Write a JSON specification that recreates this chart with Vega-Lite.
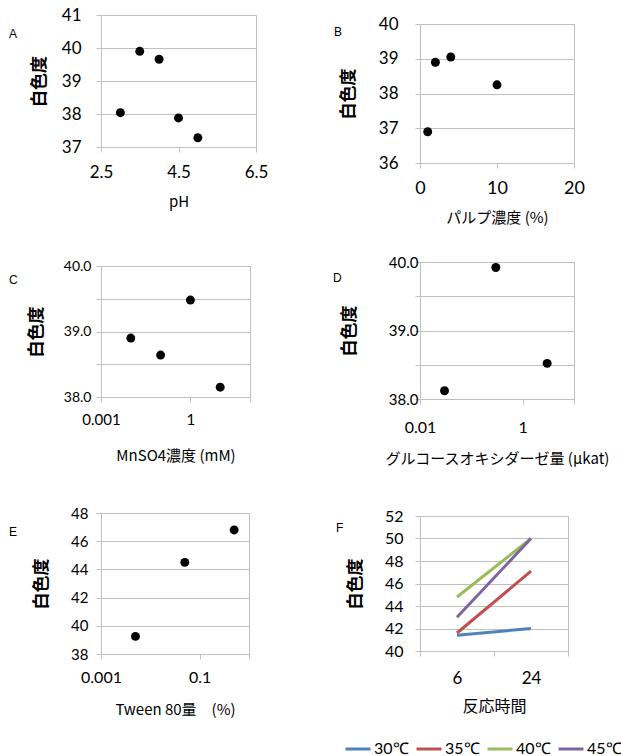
{
  "$schema": "https://vega.github.io/schema/vega-lite/v6.json",
  "padding": {"left": 8, "top": 5, "right": 0, "bottom": 0},
  "background": "white",
  "datasets": {
    "A": [
      {"pH": 3.0, "whiteness": 38.04},
      {"pH": 3.5, "whiteness": 39.9},
      {"pH": 4.0, "whiteness": 39.66},
      {"pH": 4.5, "whiteness": 37.88},
      {"pH": 5.0, "whiteness": 37.28}
    ],
    "B": [
      {"pulp": 1, "whiteness": 36.9},
      {"pulp": 2, "whiteness": 38.9},
      {"pulp": 4, "whiteness": 39.05},
      {"pulp": 10, "whiteness": 38.25}
    ],
    "C": [
      {"mnso4": 0.01, "whiteness": 38.9},
      {"mnso4": 0.1, "whiteness": 38.64},
      {"mnso4": 1, "whiteness": 39.48},
      {"mnso4": 10, "whiteness": 38.15}
    ],
    "D": [
      {"gox": 0.03, "whiteness": 38.12},
      {"gox": 0.3, "whiteness": 39.92},
      {"gox": 3, "whiteness": 38.52}
    ],
    "E": [
      {"tween": 0.005, "whiteness": 39.25},
      {"tween": 0.05, "whiteness": 44.5},
      {"tween": 0.5, "whiteness": 46.8}
    ],
    "F": [
      {"time": 6, "temp": "30℃", "whiteness": 41.4},
      {"time": 24, "temp": "30℃", "whiteness": 42.0},
      {"time": 6, "temp": "35℃", "whiteness": 41.6},
      {"time": 24, "temp": "35℃", "whiteness": 47.1},
      {"time": 6, "temp": "40℃", "whiteness": 44.8},
      {"time": 24, "temp": "40℃", "whiteness": 50.0},
      {"time": 6, "temp": "45℃", "whiteness": 43.0},
      {"time": 24, "temp": "45℃", "whiteness": 50.0}
    ]
  },
  "config": {
    "view": {"stroke": "#bfbfbf", "strokeWidth": 1},
    "axis": {
      "domainColor": "#bfbfbf",
      "tickColor": "#bfbfbf",
      "gridColor": "#bfbfbf",
      "gridOpacity": 1,
      "tickSize": 5,
      "labelColor": "#000000",
      "titleColor": "#000000",
      "labelFont": "Lato",
      "titleFont": "Noto Sans CJK JP",
      "titleFontWeight": "normal",
      "labelFontSize": 16,
      "titleFontSize": 15,
      "labelFlush": false,
      "labelOverlap": false
    },
    "axisX": {"grid": false, "labelPadding": 10, "titlePadding": 10},
    "axisY": {"grid": true, "titleFontSize": 17, "titleFontWeight": "bold", "labelPadding": 12, "titlePadding": 18},
    "title": {"font": "Liberation Sans", "fontSize": 12, "fontWeight": "normal", "color": "#000000", "anchor": "start", "frame": "group", "orient": "top", "baseline": "middle", "align": "left"},
    "legend": {"labelFont": "Lato", "labelFontSize": 16, "labelColor": "#000000"}
  },
  "hconcat": [
    {
      "vconcat": [
        {
          "width": 155, "height": 132,
          "data": {"name": "A"},
          "title": {"text": "A", "dx": -92, "offset": -35},
          "mark": {"type": "circle", "size": 80, "color": "#000000", "opacity": 1},
          "encoding": {
            "x": {"field": "pH", "type": "quantitative", "scale": {"domain": [2.5, 6.5], "nice": false, "zero": false},
                  "axis": {"values": [2.5, 4.5, 6.5], "format": ".1f", "title": "pH", "labelFontSize": 17, "labelPadding": 12, "titlePadding": 14}},
            "y": {"field": "whiteness", "type": "quantitative", "scale": {"domain": [37, 41], "nice": false, "zero": false},
                  "axis": {"values": [37, 38, 39, 40, 41], "format": "d", "title": "白色度", "labelFontSize": 17, "labelPadding": 15, "titlePadding": 13}}
          }
        },
        {"width": 1, "height": 119, "data": {"values": []}, "mark": "point", "view": {"stroke": null}},
        {
          "width": 149, "height": 131,
          "data": {"name": "C"},
          "title": {"text": "C", "dx": -92, "offset": -28},
          "mark": {"type": "circle", "size": 80, "color": "#000000", "opacity": 1},
          "encoding": {
            "x": {"field": "mnso4", "type": "quantitative", "scale": {"type": "log", "domain": [0.001, 100], "nice": false},
                  "axis": {"values": [0.001, 1, 100], "labelExpr": "datum.value == 100 ? '' : format(datum.value, '~g')", "title": "MnSO4濃度 (mM)", "labelFontSize": 15, "titlePadding": 21}},
            "y": {"field": "whiteness", "type": "quantitative", "scale": {"domain": [38, 40], "nice": false, "zero": false},
                  "axis": {"values": [38, 38.5, 39, 39.5, 40], "labelExpr": "datum.value % 1 == 0 ? format(datum.value, '.1f') : ''", "title": "白色度", "labelFontSize": 14, "labelPadding": 5}}
          }
        },
        {"width": 1, "height": 116, "data": {"values": []}, "mark": "point", "view": {"stroke": null}},
        {
          "width": 148, "height": 141,
          "data": {"name": "E"},
          "title": {"text": "E", "dx": -92, "offset": -33},
          "mark": {"type": "circle", "size": 80, "color": "#000000", "opacity": 1},
          "encoding": {
            "x": {"field": "tween", "type": "quantitative", "scale": {"type": "log", "domain": [0.001, 1], "nice": false},
                  "axis": {"values": [0.001, 0.1, 1], "labelExpr": "datum.value == 1 ? '' : format(datum.value, '~g')", "title": "Tween 80量　(%)", "labelFontSize": 16, "titlePadding": 17}},
            "y": {"field": "whiteness", "type": "quantitative", "scale": {"domain": [38, 48], "nice": false, "zero": false},
                  "axis": {"values": [38, 40, 42, 44, 46, 48], "format": "d", "title": "白色度", "labelFontSize": 15, "labelPadding": 8, "titlePadding": 20}}
          }
        }
      ],
      "spacing": 0,
      "bounds": "flush"
    },
    {
      "vconcat": [
        {"width": 1, "height": 9, "data": {"values": []}, "mark": "point", "view": {"stroke": null}},
        {
          "width": 154, "height": 139,
          "data": {"name": "B"},
          "title": {"text": "B", "dx": -86, "offset": -24},
          "mark": {"type": "circle", "size": 80, "color": "#000000", "opacity": 1},
          "encoding": {
            "x": {"field": "pulp", "type": "quantitative", "scale": {"domain": [0, 20], "nice": false},
                  "axis": {"values": [0, 10, 20], "format": "d", "title": "パルプ濃度 (%)", "labelFontSize": 18, "labelPadding": 11, "titlePadding": 13}},
            "y": {"field": "whiteness", "type": "quantitative", "scale": {"domain": [36, 40], "nice": false, "zero": false},
                  "axis": {"values": [36, 37, 38, 39, 40], "format": "d", "title": "白色度", "labelFontSize": 17, "labelPadding": 17, "titlePadding": 21}}
          }
        },
        {"width": 1, "height": 99, "data": {"values": []}, "mark": "point", "view": {"stroke": null}},
        {
          "width": 154, "height": 137,
          "data": {"name": "D"},
          "title": {"text": "D", "dx": -87, "offset": -30},
          "mark": {"type": "circle", "size": 80, "color": "#000000", "opacity": 1},
          "encoding": {
            "x": {"field": "gox", "type": "quantitative", "scale": {"type": "log", "domain": [0.01, 10], "nice": false},
                  "axis": {"values": [0.01, 1, 10], "labelExpr": "datum.value == 10 ? '' : format(datum.value, '~g')", "title": "グルコースオキシダーゼ量 (µkat)", "labelFontSize": 16, "labelPadding": 15, "titlePadding": 16}},
            "y": {"field": "whiteness", "type": "quantitative", "scale": {"domain": [38, 40], "nice": false, "zero": false},
                  "axis": {"values": [38, 38.5, 39, 39.5, 40], "labelExpr": "datum.value % 1 == 0 ? format(datum.value, '.1f') : ''", "title": "白色度", "labelFontSize": 15, "labelPadding": -3, "titlePadding": 30}}
          }
        },
        {"width": 1, "height": 117, "data": {"values": []}, "mark": "point", "view": {"stroke": null}},
        {
          "width": 148, "height": 135,
          "data": {"name": "F"},
          "title": {"text": "F", "dx": -84, "offset": -27},
          "mark": {"type": "line", "strokeWidth": 3},
          "encoding": {
            "x": {"field": "time", "type": "ordinal", "scale": {"type": "band", "paddingInner": 0, "paddingOuter": 0},
                  "axis": {"tickBand": "extent", "labelAngle": 0, "title": "反応時間", "labelFontSize": 17, "titleFontSize": 16, "labelPadding": 14, "titlePadding": 12}},
            "y": {"field": "whiteness", "type": "quantitative", "scale": {"domain": [40, 52], "nice": false, "zero": false},
                  "axis": {"values": [40, 42, 44, 46, 48, 50, 52], "format": "d", "title": "白色度", "labelFontSize": 16, "labelPadding": 12, "titlePadding": 20}},
            "color": {"field": "temp", "type": "nominal",
                      "scale": {"domain": ["30℃", "35℃", "40℃", "45℃"], "range": ["#4F81BD", "#C0504D", "#9BBB59", "#8064A2"]},
                      "legend": {"orient": "none", "legendX": 243, "legendY": 720, "direction": "horizontal", "title": null, "symbolType": "stroke", "symbolSize": 625, "symbolStrokeWidth": 3, "labelOffset": 2, "columnPadding": 1}}
          }
        }
      ],
      "spacing": 0,
      "bounds": "flush"
    }
  ],
  "spacing": 319,
  "bounds": "flush"
}
